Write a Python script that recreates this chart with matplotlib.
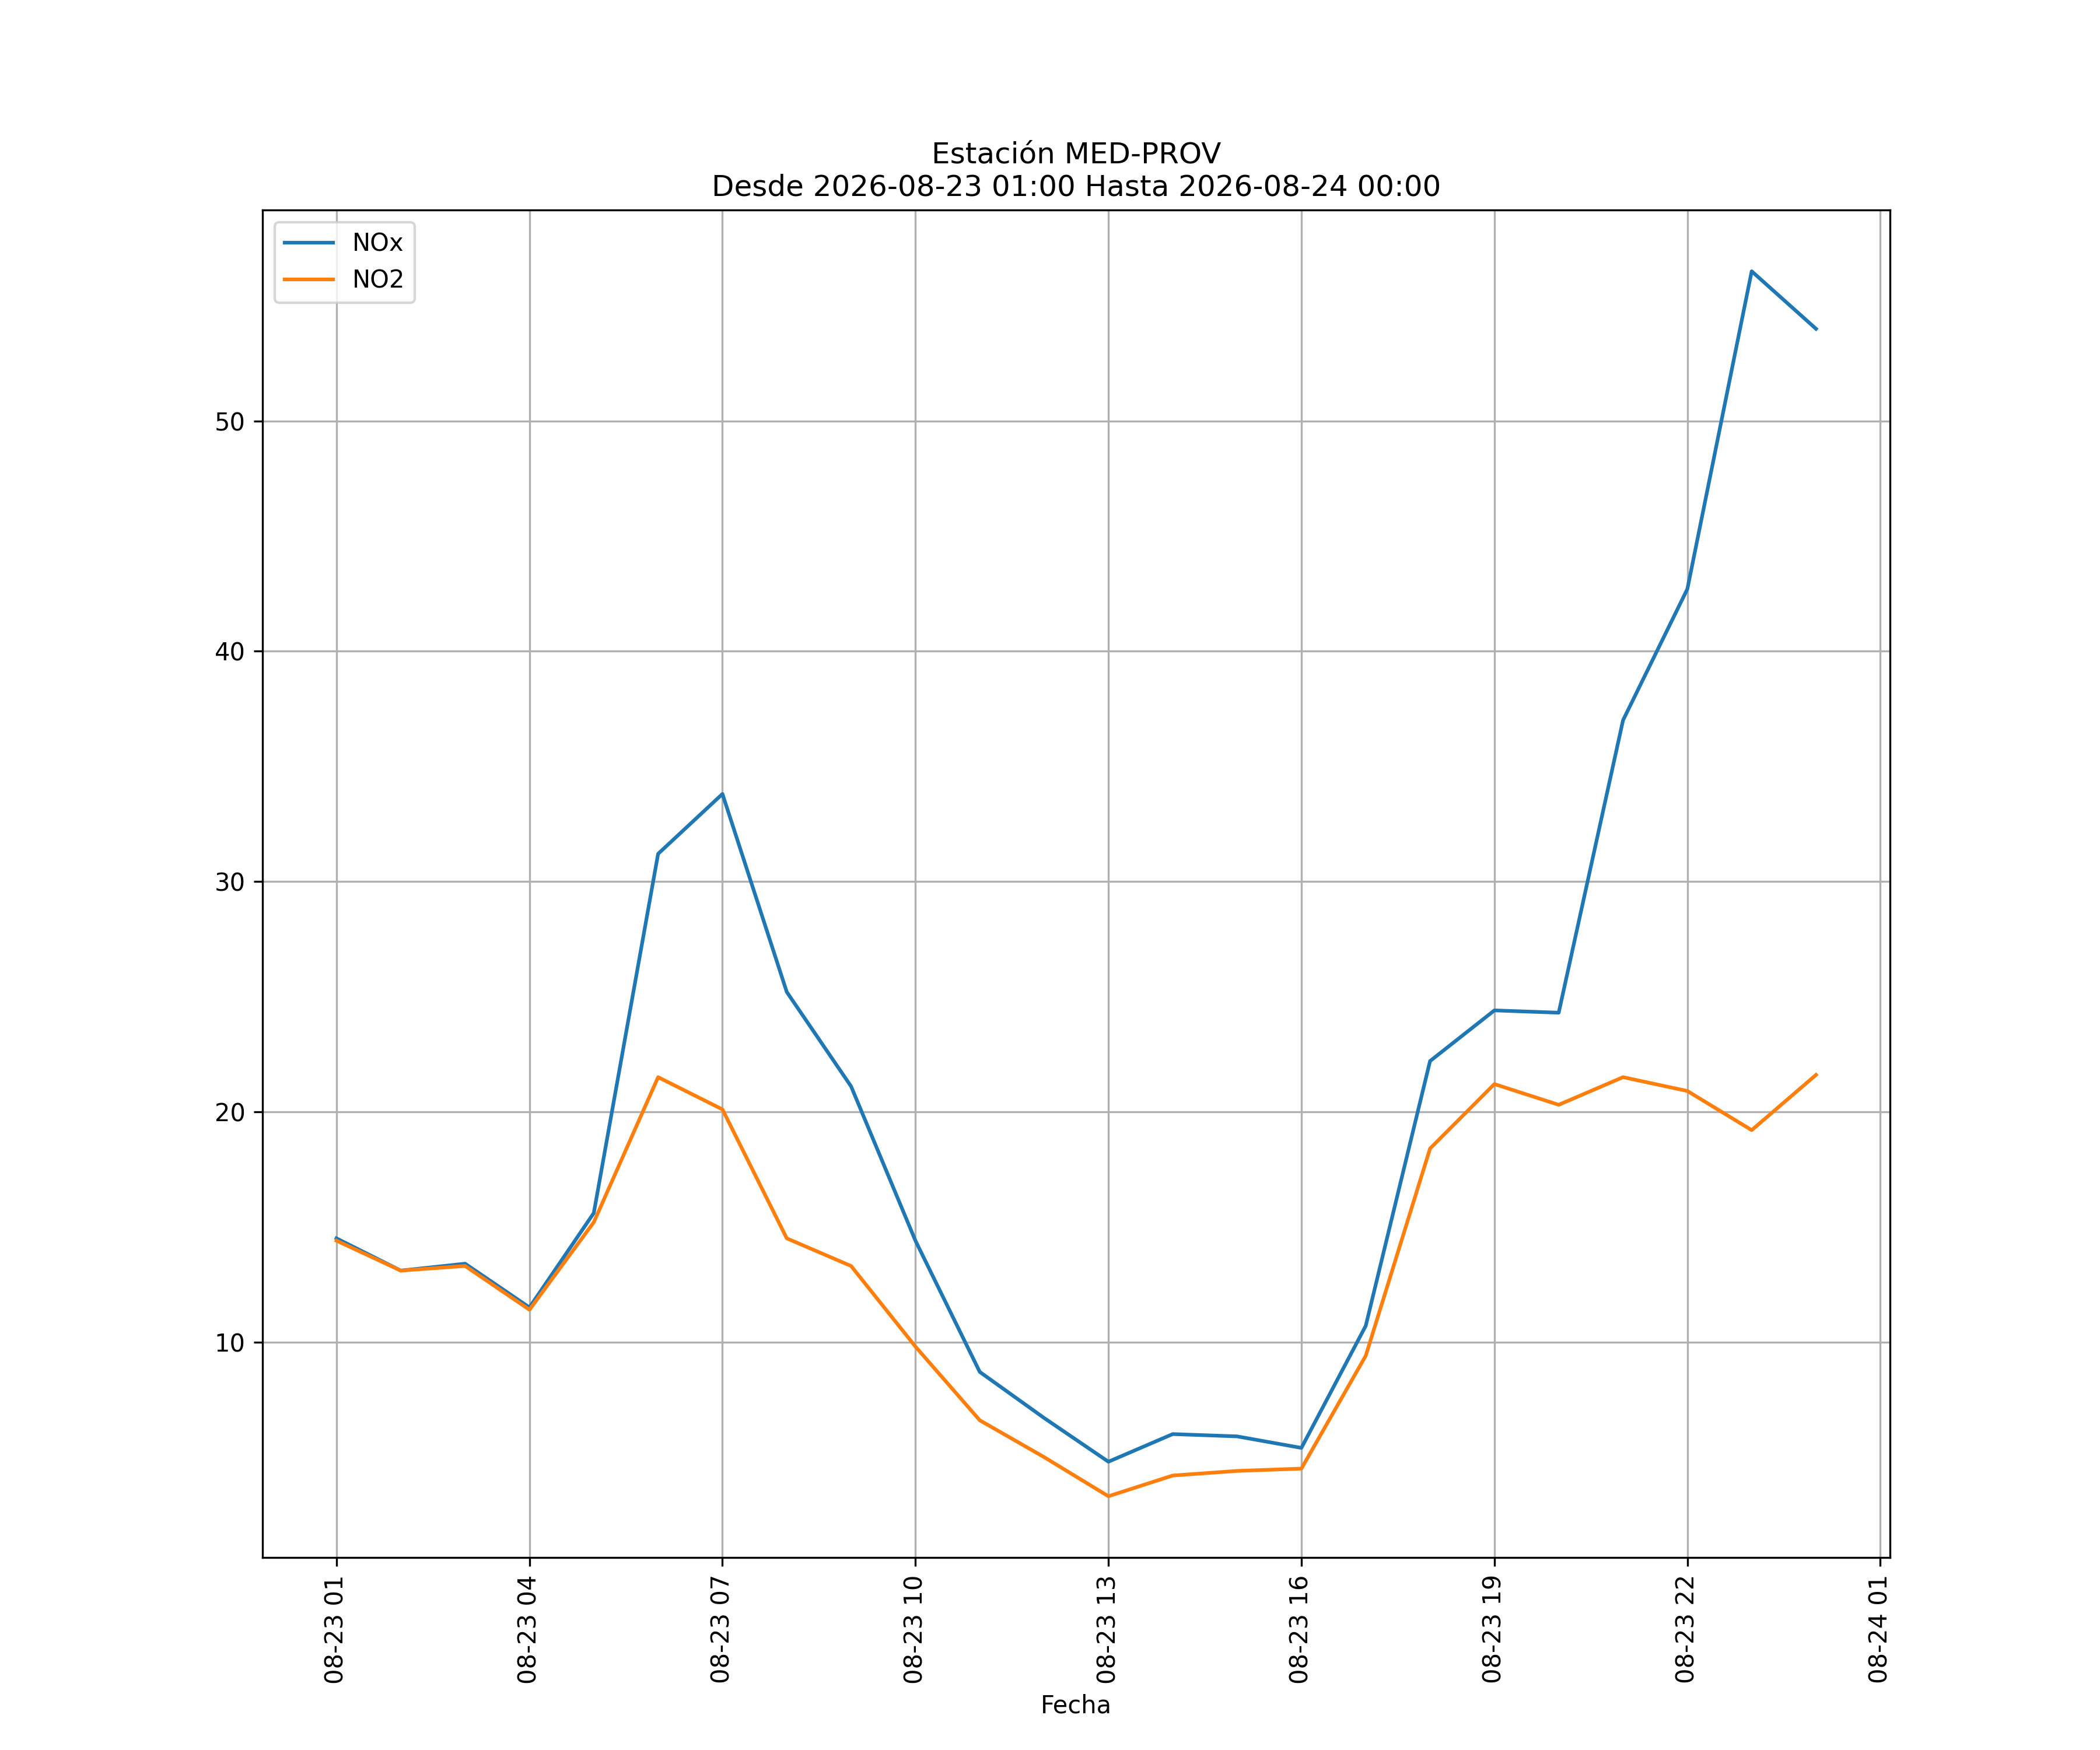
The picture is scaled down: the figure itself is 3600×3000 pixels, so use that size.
import matplotlib
matplotlib.use("Agg")
import matplotlib.pyplot as plt
import matplotlib.dates as mdates
import pandas as pd

fechas = pd.date_range("2026-08-23 01:00", "2026-08-24 00:00", freq="h")
nox = [14.5, 13.1, 13.4, 11.5, 15.6, 31.2, 33.8, 25.2, 21.1, 14.4, 8.7, 6.7,
       4.8, 6.0, 5.9, 5.4, 10.7, 22.2, 24.4, 24.3, 37.0, 42.7, 56.5, 54.0]
no2 = [14.4, 13.1, 13.3, 11.4, 15.2, 21.5, 20.1, 14.5, 13.3, 9.8, 6.6, 5.0,
       3.3, 4.2, 4.4, 4.5, 9.4, 18.4, 21.2, 20.3, 21.5, 20.9, 19.2, 21.6]

fig, ax = plt.subplots(figsize=(12, 10))
ax.plot(fechas, nox, label="NOx")
ax.plot(fechas, no2, label="NO2")
ax.xaxis.set_major_locator(mdates.HourLocator(byhour=range(1, 24, 3)))
ax.xaxis.set_major_formatter(mdates.DateFormatter("%m-%d %H"))
plt.setp(ax.get_xticklabels(), rotation=90)
ax.set_xlabel("Fecha")
ax.set_title("Estación MED-PROV\nDesde 2026-08-23 01:00 Hasta 2026-08-24 00:00")
ax.grid(True)
ax.legend(loc="upper left")
fig.savefig("out.png", dpi=300)
plt.close("all")
